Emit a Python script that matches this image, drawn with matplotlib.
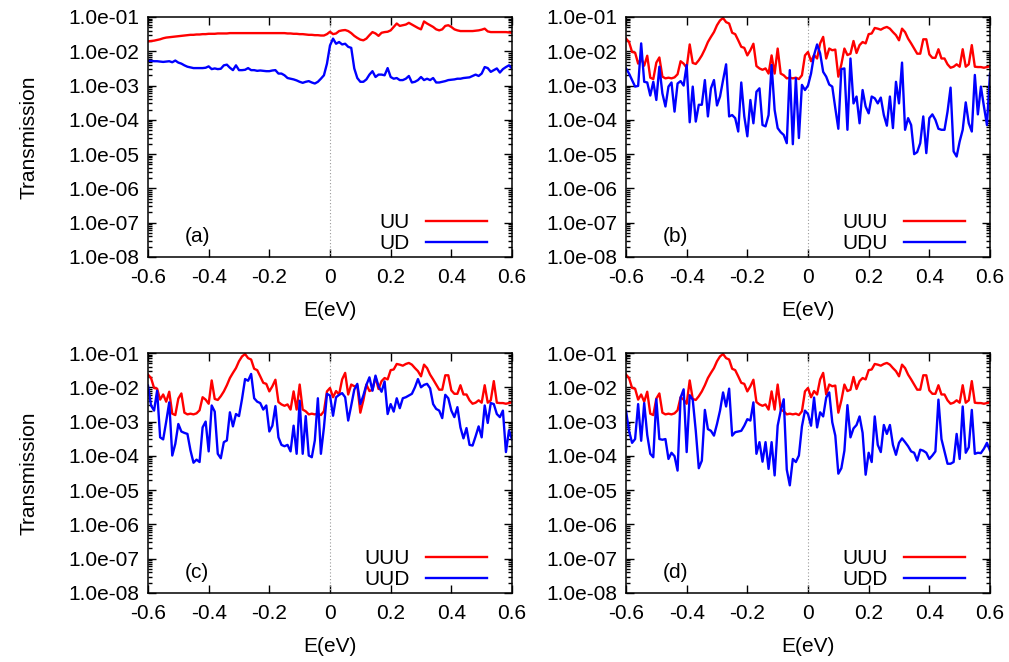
import numpy as np
import matplotlib
matplotlib.use('Agg')
import matplotlib.pyplot as plt
from matplotlib.ticker import LogLocator, FuncFormatter, MultipleLocator

plt.rcParams['font.family'] = ['Liberation Sans', 'DejaVu Sans']

# energy grid, 0.01 eV step
E = np.round(np.linspace(-0.6, 0.6, 121), 2)

# log10 of transmission
uu = [-1.71,-1.70,-1.69,-1.67,-1.65,-1.62,-1.60,-1.59,-1.58,-1.57,-1.56,
      -1.55,-1.54,-1.53,-1.52,-1.52,-1.51,-1.51,-1.50,-1.50,-1.49,
      -1.49,-1.49,-1.48,-1.48,-1.48,-1.48,-1.47,-1.47,-1.47,-1.47,
      -1.47,-1.47,-1.47,-1.47,-1.47,-1.47,-1.47,-1.47,-1.47,-1.47,
      -1.47,-1.47,-1.47,-1.47,-1.47,-1.48,-1.48,-1.49,-1.49,-1.50,
      -1.50,-1.51,-1.52,-1.52,-1.53,-1.53,-1.54,-1.54,-1.50,-1.43,
      -1.50,-1.48,-1.41,-1.39,-1.38,-1.41,-1.47,-1.55,-1.61,-1.66,
      -1.68,-1.63,-1.53,-1.44,-1.48,-1.55,-1.46,-1.44,-1.43,-1.39,
      -1.29,-1.19,-1.26,-1.24,-1.22,-1.17,-1.22,-1.27,-1.32,-1.36,
      -1.13,-1.19,-1.24,-1.29,-1.36,-1.39,-1.36,-1.26,-1.24,-1.29,
      -1.36,-1.39,-1.41,-1.41,-1.41,-1.41,-1.41,-1.40,-1.39,-1.37,
      -1.34,-1.42,-1.44,-1.44,-1.44,-1.44,-1.44,-1.44,-1.45,-1.46]

ud = [-2.28,-2.28,-2.29,-2.29,-2.30,-2.31,-2.30,-2.29,-2.32,-2.27,-2.33,
      -2.36,-2.41,-2.45,-2.47,-2.49,-2.49,-2.49,-2.49,-2.48,-2.44,
      -2.52,-2.50,-2.52,-2.51,-2.41,-2.39,-2.48,-2.55,-2.41,-2.55,
      -2.55,-2.54,-2.49,-2.55,-2.55,-2.57,-2.56,-2.57,-2.58,-2.58,
      -2.56,-2.55,-2.65,-2.65,-2.70,-2.78,-2.80,-2.82,-2.85,-2.89,
      -2.92,-2.89,-2.87,-2.91,-2.94,-2.89,-2.80,-2.70,-2.36,-1.83,
      -1.63,-1.78,-1.73,-1.80,-1.78,-1.87,-1.90,-2.50,-2.78,-2.89,
      -2.89,-2.82,-2.68,-2.58,-2.75,-2.68,-2.68,-2.70,-2.49,-2.75,
      -2.80,-2.78,-2.84,-2.84,-2.80,-2.72,-2.91,-2.89,-2.84,-2.75,
      -2.84,-2.80,-2.84,-2.78,-2.91,-2.91,-2.89,-2.87,-2.84,-2.83,
      -2.82,-2.80,-2.80,-2.78,-2.77,-2.76,-2.72,-2.68,-2.72,-2.65,
      -2.46,-2.49,-2.60,-2.55,-2.50,-2.62,-2.52,-2.46,-2.41,-2.50]

uuu = [-1.63,-1.73,-2.02,-2.04,-2.36,-2.21,-2.42,-2.13,-2.77,-2.81,-2.33,
       -2.18,-2.74,-2.79,-2.77,-2.79,-2.76,-2.67,-2.29,-2.36,-2.48,
       -1.80,-2.34,-2.37,-2.26,-2.12,-1.94,-1.73,-1.58,-1.44,-1.24,
       -1.10,-1.03,-1.15,-1.19,-1.46,-1.50,-1.68,-1.87,-1.90,-2.12,
       -1.97,-1.78,-2.43,-2.50,-2.54,-2.50,-2.65,-2.12,-2.65,-1.92,
       -2.65,-2.70,-2.79,-2.77,-2.79,-2.77,-2.81,-2.70,-2.12,-2.02,
       -2.29,-2.11,-2.21,-1.77,-1.58,-2.21,-1.92,-1.97,-1.95,-2.74,
       -2.38,-1.92,-2.11,-2.07,-1.70,-2.05,-1.82,-1.73,-1.77,-1.50,
       -1.48,-1.32,-1.34,-1.37,-1.32,-1.29,-1.34,-1.44,-1.53,-1.68,
       -1.34,-1.44,-1.63,-1.77,-1.92,-2.07,-2.07,-1.65,-1.65,-2.09,
       -2.19,-2.19,-1.94,-2.21,-2.21,-2.38,-2.48,-2.45,-2.38,-2.45,
       -1.94,-2.45,-2.38,-1.82,-2.45,-2.46,-2.46,-2.48,-2.46,-2.44]

udu = [-2.50,-2.65,-2.84,-3.03,-3.01,-1.77,-2.89,-2.91,-3.29,-2.89,-3.42,
       -2.45,-3.23,-3.61,-3.03,-2.91,-3.76,-2.94,-2.87,-3.00,-2.40,
       -4.07,-3.03,-4.05,-3.56,-3.56,-2.84,-3.90,-3.08,-2.84,-3.58,
       -3.32,-2.84,-2.38,-3.90,-3.86,-3.95,-4.34,-2.91,-3.90,-4.48,
       -3.42,-4.10,-3.18,-3.08,-4.15,-4.19,-3.86,-2.40,-3.71,-4.24,
       -4.36,-4.44,-4.68,-2.55,-4.71,-2.79,-4.53,-2.98,-3.13,-3.00,
       -2.65,-2.11,-1.80,-2.06,-2.60,-2.74,-2.97,-3.03,-3.66,-4.26,
       -2.52,-2.50,-4.29,-2.21,-3.52,-3.32,-4.10,-3.13,-3.61,-3.81,
       -3.32,-3.37,-3.52,-3.35,-3.86,-4.17,-3.32,-4.24,-2.89,-3.52,
       -2.33,-4.29,-3.95,-4.15,-5.00,-4.94,-4.68,-3.90,-4.97,-3.95,
       -3.84,-4.00,-4.26,-4.29,-4.29,-3.76,-3.06,-4.92,-5.07,-4.63,
       -4.29,-3.49,-4.10,-4.34,-2.69,-3.84,-3.03,-3.61,-4.15,-2.65]

uud = [-1.95,-2.53,-2.68,-2.10,-3.46,-3.52,-3.00,-2.44,-3.99,-3.65,-3.07,
       -3.29,-3.33,-3.36,-3.84,-4.20,-4.11,-4.18,-3.17,-3.00,-3.87,
       -2.53,-2.71,-3.94,-4.07,-3.60,-3.55,-2.73,-3.14,-2.78,-2.84,
       -2.34,-1.76,-1.81,-1.61,-2.32,-2.42,-2.46,-2.65,-2.53,-3.29,
       -3.12,-2.55,-3.46,-3.68,-3.72,-3.68,-3.87,-3.12,-3.94,-2.39,
       -3.94,-2.84,-3.99,-4.04,-3.55,-2.32,-3.94,-3.17,-2.19,-2.24,
       -2.83,-2.29,-2.22,-2.17,-2.29,-2.97,-2.53,-2.07,-1.90,-2.49,
       -2.24,-1.93,-1.71,-2.10,-1.66,-1.97,-2.13,-1.83,-2.78,-2.49,
       -2.71,-2.32,-2.61,-2.32,-2.29,-2.24,-2.19,-2.00,-1.76,-2.00,
       -1.93,-1.90,-2.03,-2.49,-2.63,-2.68,-2.90,-2.22,-2.32,-2.68,
       -2.87,-2.58,-3.17,-3.49,-3.19,-3.68,-3.70,-3.43,-3.14,-3.46,
       -2.53,-3.04,-2.46,-2.49,-2.78,-2.87,-2.68,-3.89,-3.26,-3.52]

udd = [-2.68,-3.27,-3.62,-3.51,-2.49,-3.56,-2.46,-3.39,-3.94,-4.04,-2.35,
       -3.51,-3.53,-3.51,-4.09,-3.91,-4.01,-4.43,-2.30,-2.06,-3.89,
       -2.23,-2.36,-3.27,-4.36,-4.14,-2.66,-3.22,-3.27,-3.41,-3.07,
       -2.68,-2.15,-2.56,-2.04,-3.41,-3.31,-3.29,-3.27,-3.12,-2.93,
       -2.97,-2.44,-3.94,-3.60,-4.17,-3.60,-4.38,-3.60,-4.57,-3.12,
       -2.68,-2.35,-4.40,-4.86,-4.09,-4.18,-3.99,-3.14,-2.68,-2.78,
       -3.12,-2.30,-3.17,-2.73,-2.85,-2.30,-2.15,-3.02,-3.41,-4.52,
       -4.36,-3.85,-2.52,-3.46,-3.20,-3.10,-2.85,-3.33,-4.55,-3.91,
       -4.18,-2.85,-3.68,-3.89,-3.10,-3.36,-3.10,-3.68,-3.97,-3.62,
       -3.49,-3.60,-3.72,-3.87,-3.91,-4.14,-3.82,-3.85,-3.91,-4.09,
       -3.99,-3.87,-2.36,-3.51,-3.87,-4.23,-4.23,-4.18,-3.36,-4.09,
       -2.56,-3.91,-3.75,-2.66,-3.94,-3.91,-3.92,-3.79,-3.62,-3.85]

panels = [
    ('(a)', 'UU', uu, 'UD', ud),
    ('(b)', 'UUU', uuu, 'UDU', udu),
    ('(c)', 'UUU', uuu, 'UUD', uud),
    ('(d)', 'UUU', uuu, 'UDD', udd),
]

W, H = 1009, 662
fig = plt.figure(figsize=(W / 100, H / 100), dpi=100)
lefts = [148, 626]
tops = [17, 353]
fs = 15

for n, (tag, lab1, y1, lab2, y2) in enumerate(panels):
    l = lefts[n % 2]
    t = tops[n // 2]
    ax = fig.add_axes([l / W, 1 - (t + 240) / H, 364 / W, 240 / H])
    ax.axvline(0, color='#9a9a9a', lw=0.8, ls=(0, (1, 2)))
    ax.plot(E, 10 ** np.array(y1), color='#ff0000', lw=1.7, label=lab1)
    ax.plot(E, 10 ** np.array(y2), color='#0000ff', lw=1.7, label=lab2)
    ax.set_yscale('log')
    ax.set_xlim(-0.6, 0.6)
    ax.set_ylim(1e-8, 1e-1)
    ax.xaxis.set_major_locator(MultipleLocator(0.2))
    ax.xaxis.set_major_formatter(FuncFormatter(lambda v, p: '0' if abs(v) < 1e-9 else f'{v:.1f}'))
    ax.yaxis.set_major_locator(LogLocator(base=10, numticks=20))
    ax.yaxis.set_minor_locator(LogLocator(base=10, subs=np.arange(2, 10), numticks=20))
    ax.yaxis.set_major_formatter(FuncFormatter(lambda v, p: f'{v:.1e}'))
    ax.tick_params(which='both', direction='in', top=True, right=True, labelsize=fs, width=1.0)
    ax.tick_params(which='major', length=6)
    ax.tick_params(which='minor', length=3)
    ax.tick_params(axis='x', which='major', pad=8)
    ax.tick_params(axis='y', which='major', pad=6)
    for s in ax.spines.values():
        s.set_linewidth(1.1)
    ax.set_xlabel('E(eV)', fontsize=fs, labelpad=10)
    if n % 2 == 0:
        ax.set_ylabel('Transmission', fontsize=fs, labelpad=22)
    ax.text(0.10, 0.085, tag, transform=ax.transAxes, fontsize=fs, va='center')
    ax.legend(loc='lower right', bbox_to_anchor=(0.93, 0.015), frameon=False,
              markerfirst=False, fontsize=fs, handlelength=2.9, handletextpad=0.8,
              labelspacing=0.12, borderaxespad=0, borderpad=0)

fig.savefig('out.png', dpi=100)
